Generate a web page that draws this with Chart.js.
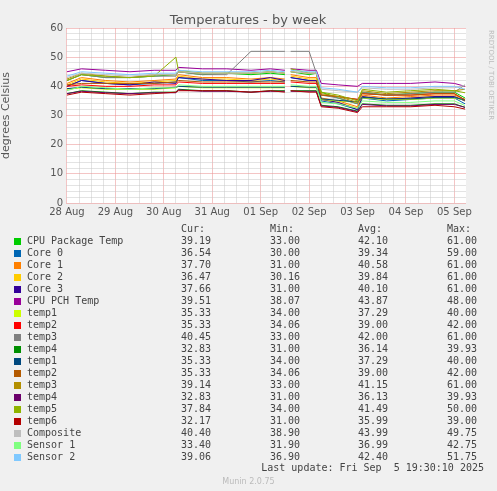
<!DOCTYPE html>
<html><head><meta charset="utf-8">
<script src="https://cdn.jsdelivr.net/npm/chart.js@4"></script>
<style>
body{margin:0;background:#f0f0f0;width:497px;height:491px;overflow:hidden;font-family:"DejaVu Sans Mono",monospace;color:#444}
#c{position:absolute;left:0;top:0}
.t{position:absolute;font-size:10px;line-height:12px;white-space:pre}
.sw{position:absolute;width:7px;height:7px}
</style></head><body>
<canvas id="c" width="497" height="491"></canvas>
<div id="leg"></div>
<script>
const dayLabels=["28 Aug","29 Aug","30 Aug","31 Aug","01 Sep","02 Sep","03 Sep","04 Sep","05 Sep"];
const times=[0,0.3,0.8,1.3,1.8,2.25,2.3,2.8,3.3,3.8,4.2,4.5,4.56,4.62,5.0,5.15,5.25,5.6,6.0,6.1,6.6,7.1,7.6,8.0,8.22];
const names=["CPU Package Temp","Core 0","Core 1","Core 2","Core 3","CPU PCH Temp","temp1","temp2","temp3","temp4","temp1","temp2","temp3","temp4","temp5","temp6","Composite","Sensor 1","Sensor 2"];
const colors=["#00cc00","#0066b3","#ff8000","#ffcc00","#330099","#990099","#ccff00","#ff0000","#808080","#008f00","#00487d","#b35a00","#b38f00","#6b006b","#8fb300","#b30000","#bebebe","#80ff80","#80c9ff"];
const cur=["39.19","36.54","37.70","36.47","37.66","39.51","35.33","35.33","40.45","32.83","35.33","35.33","39.14","32.83","37.84","32.17","40.40","33.40","39.06"];
const mins=["33.00","30.00","31.00","30.16","31.00","38.07","34.00","34.06","33.00","31.00","34.00","34.06","33.00","31.00","34.00","31.00","38.90","31.90","36.90"];
const avgs=["42.10","39.34","40.58","39.84","40.10","43.87","37.29","39.00","42.00","36.14","37.29","39.00","41.15","36.13","41.49","35.99","43.99","36.99","42.40"];
const maxs=["61.00","59.00","61.00","61.00","61.00","48.00","40.00","42.00","61.00","39.93","40.00","42.00","61.00","39.93","50.00","39.00","49.75","42.75","51.75"];
const values=[
[42,44,43,43,43.5,44,45,44,44.5,44,44.5,44,null,45,44,44.5,38,36,34,38,37,37.5,38,38,36],
[40,42,41,40.5,41,41.5,43,42,42,41.5,42,41.5,null,43,42,42,35,34,32,36,35,35.5,36,36,34],
[41,43,42,41.5,42,42.5,44,43,43,42.5,43,42.5,null,44,43,43,36,35,33,37,36,36.5,37,37,35.5],
[40.5,42.5,41.5,41,41.5,42,43.5,42.5,42.5,42,42.5,42,null,43.5,42.5,42.5,35.5,34.5,32.5,36.5,35.5,36,36.5,36.5,35],
[40,42,41,40.5,41.5,41,43,42.5,42,42,43,42,null,43,42,42,35.5,34.5,32,36.5,35.5,36,36.5,36.5,35],
[45,46,45.5,45,45.5,45.5,46.5,46,46,45.5,46,45.5,null,46,45.5,45.5,41,40.5,40,41,41,41,41.5,41,40],
[39,39.5,39,39,39,39.5,40,39.5,39.5,39.5,39.5,39.5,null,40,39.5,39.5,35.5,35,34.5,36,35.5,35.5,36,36,35.3],
[40,40.5,40,40,40.5,40.5,41.5,41,41,41,41,41,null,41.5,41,41,37,36.5,35.5,37.5,37,37,37.5,37.5,35.3],
[42,44,43,43,43.5,43.5,45,44,44,52,52,52,null,52,52,44.5,37,36,34,38,37,37.5,38,38,40.5],
[37.5,38.5,38,37.5,38,38,39,38.5,38.5,38,38.5,38.5,null,38.5,38.5,38.5,33.5,33,31.5,34,33.5,33.5,34,34,32.8],
[39.2,39.7,39.2,39.2,39.2,39.7,40,39.7,39.7,39.7,39.7,39.7,null,40,39.7,39.7,35.7,35.2,34.7,36.2,35.7,35.7,36.2,36.2,35.3],
[40.5,41,41,41,41,41.5,42,41.5,41.5,41.5,41.5,41.5,null,42,41.5,41.5,37,36.5,35.5,37.5,37,37,37.5,37.5,35.3],
[42.5,44.5,43.5,43,44,44,45,44.5,44.5,44.5,45,44.5,null,45,44.5,44.5,37.5,36.5,34.5,38.5,37.5,38,38.5,38.5,39],
[37.5,38.3,37.8,37.5,37.8,37.8,38.8,38.3,38.3,38,38.3,38.3,null,38.3,38.3,38.3,33.3,32.8,31.3,33.8,33.3,33.3,33.8,33.8,32.8],
[42,44,43.5,43,43.5,50,45.5,44.5,44.5,44.5,45,44.5,null,46,44.5,44.5,38,37,35,39,38,38.5,39,38.5,37.8],
[37,38,37.5,37,37.5,38,38.5,38.5,38.5,38,38.5,38,null,38.5,38,38,33,32.5,31,33,33,33,33.5,33,32.2],
[43,44.5,44,43.5,44,44,45,44.5,44.5,44.5,45,44.5,null,45,44.5,44.5,39,38.5,38,39.5,39,39,39.5,39.5,40.4],
[38.5,40,39.5,39,39.5,39.5,40.5,40,40,40,40,40,null,40.5,40,40,34.5,34,32.5,35,34.5,34.5,35,35,33.4],
[43.5,45,44.5,44,44.5,44.5,45.5,45,45,45,45.5,45,null,45.5,45,45,39.5,39,38,40,39.5,39.5,40,40,39]
];
const datasets=values.map((v,i)=>({label:names[i],data:v.map((y,j)=>({x:times[j],y})),borderColor:colors[i],borderWidth:1,pointRadius:0,tension:0,spanGaps:false,order:-i}));
const deco={id:'deco',
beforeDraw(c){const g=c.ctx,a=c.chartArea;g.save();g.fillStyle='#fff';g.fillRect(a.left,a.top,a.right-a.left,a.bottom-a.top);g.restore();},
afterDraw(c){const g=c.ctx;g.save();g.fillStyle='#555';g.font='13px "DejaVu Sans"';g.textAlign='center';g.fillText('Temperatures - by week',248,24);
g.translate(489,30);g.rotate(Math.PI/2);g.font='7px "DejaVu Sans"';g.fillStyle='#bbb';g.textAlign='left';g.fillText('RRDTOOL / TOBI OETIKER',0,0);g.restore();}};
new Chart(document.getElementById('c'),{type:'line',data:{datasets},plugins:[deco],
options:{responsive:false,animation:false,layout:{padding:{left:0,right:31,top:28,bottom:273}},
plugins:{legend:{display:false},tooltip:{enabled:false}},
scales:{
x:{type:'linear',min:-0.02,max:8.24,afterFit:s=>{s.height=15},
 afterBuildTicks:s=>{const t=[];for(let k=0;k<=32;k++)t.push({value:k*0.25});s.ticks=t;},
 ticks:{autoSkip:false,maxRotation:0,color:'#555',font:{size:10,family:'DejaVu Sans'},callback:v=>Number.isInteger(v)?dayLabels[v]:''},
 grid:{color:c=>Number.isInteger(c.tick&&c.tick.value)?'rgba(235,150,150,0.55)':'rgba(200,200,200,0.5)',borderDash:[1,2],drawTicks:false},border:{display:false}},
y:{min:0,max:60,afterFit:s=>{s.width=66},
 ticks:{stepSize:2,autoSkip:false,color:'#555',font:{size:10,family:'DejaVu Sans'},callback:v=>v%10===0?v:''},
 title:{display:true,text:'degrees Celsius',color:'#555',font:{size:11,family:'DejaVu Sans'},padding:0},
 grid:{color:c=>c.tick&&c.tick.value%10===0?'rgba(235,150,150,0.55)':'rgba(200,200,200,0.5)',borderDash:[1,2],drawTicks:false},border:{display:false}}}}});
const leg=document.getElementById('leg');let h='';
const row0=235;
h+=`<div class="t" style="left:181px;top:${row0-12}px">Cur:</div><div class="t" style="left:270px;top:${row0-12}px">Min:</div><div class="t" style="left:358px;top:${row0-12}px">Avg:</div><div class="t" style="left:447px;top:${row0-12}px">Max:</div>`;
names.forEach((n,i)=>{const y=row0+i*12;
h+=`<div class="sw" style="left:14px;top:${y+3}px;background:${colors[i]}"></div><div class="t" style="left:27px;top:${y}px">${n}</div>`;
[[cur,181],[mins,270],[avgs,358],[maxs,447]].forEach(([a,x])=>{h+=`<div class="t" style="left:${x}px;top:${y}px">${a[i]}</div>`;});});
h+=`<div class="t" style="right:13px;top:462px">Last update: Fri Sep  5 19:30:10 2025</div>`;
h+=`<div class="t" style="left:0;width:497px;text-align:center;top:476px;font-size:8px;color:#bbb;font-family:'DejaVu Sans'">Munin 2.0.75</div>`;
leg.innerHTML=h;
</script></body></html>
